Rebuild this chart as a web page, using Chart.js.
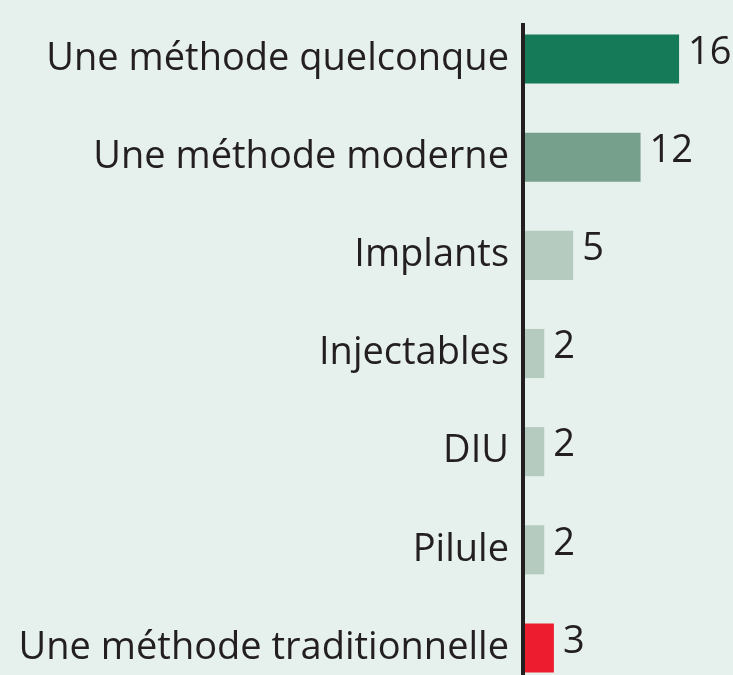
<!DOCTYPE html>
<html>
<head>
<meta charset="utf-8">
<script src="https://cdn.jsdelivr.net/npm/chart.js@4/dist/chart.umd.min.js"></script>
<style>
  html, body { margin: 0; padding: 0; background: #e6f0ec; overflow: hidden; }
  #wrap { width: 733px; height: 675px; overflow: hidden; }
</style>
</head>
<body>
<div id="wrap"><canvas id="chart" width="733" height="697"></canvas></div>
<script>
// données
const categories = [
    'Une méthode quelconque',
    'Une méthode moderne',
    'Implants',
    'Injectables',
    'DIU',
    'Pilule',
    'Une méthode traditionnelle'
];
const valeurs = [16, 12, 5, 2, 2, 2, 3];
const couleurs = ['#157a57', '#76a08c', '#b5cbc0', '#b5cbc0', '#b5cbc0', '#b5cbc0', '#ed1c2e'];

const FONT = '"Open Sans", sans-serif';
const TEXT_COLOR = '#231f20';

// ligne verticale de l'axe
const axisLine = {
    id: 'axisLine',
    afterDatasetsDraw(chart) {
        const { ctx, chartArea, scales } = chart;
        const x = scales.x.getPixelForValue(0) - 2;
        ctx.save();
        ctx.strokeStyle = TEXT_COLOR;
        ctx.lineWidth = 4;
        ctx.beginPath();
        ctx.moveTo(x, chartArea.top + 13);
        ctx.lineTo(x, chartArea.bottom);
        ctx.stroke();
        ctx.restore();
    }
};

// valeurs au bout des barres
const valueLabels = {
    id: 'valueLabels',
    afterDatasetsDraw(chart) {
        const { ctx } = chart;
        const meta = chart.getDatasetMeta(0);
        ctx.save();
        ctx.font = '38px ' + FONT;
        ctx.fillStyle = TEXT_COLOR;
        ctx.textAlign = 'left';
        ctx.textBaseline = 'middle';
        meta.data.forEach((bar, i) => {
            ctx.fillText(String(valeurs[i]), bar.x + 9, bar.y - 6);
        });
        ctx.restore();
    }
};

new Chart(document.getElementById('chart'), {
    type: 'bar',
    data: {
        labels: categories,
        datasets: [{
            data: valeurs,
            backgroundColor: couleurs,
            borderWidth: 0,
            barPercentage: 0.5,
            categoryPercentage: 1
        }]
    },
    options: {
        indexAxis: 'y',
        responsive: false,
        animation: false,
        layout: { padding: { top: 10, right: 0, bottom: 0, left: 0 } },
        plugins: {
            legend: { display: false },
            tooltip: { enabled: false }
        },
        scales: {
            x: {
                display: false,
                min: 0,
                max: 21.6
            },
            y: {
                afterFit(scale) {
                    scale.width = 525;
                    scale.paddingTop = 0;
                    scale.paddingBottom = 0;
                },
                grid: { display: false, drawTicks: false },
                border: { display: false },
                ticks: {
                    color: TEXT_COLOR,
                    padding: 16,
                    font: { family: FONT, size: 38 }
                }
            }
        }
    },
    plugins: [axisLine, valueLabels]
});
</script>
</body>
</html>
